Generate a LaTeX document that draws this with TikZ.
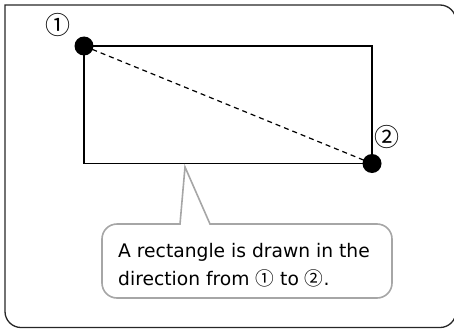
\documentclass[tikz,border=0pt]{standalone}
\usepackage{fontspec}
\newfontfamily\dejavu{DejaVu Sans}
\newfontfamily\cjk{Noto Sans CJK JP}
\usepackage{tikz}

\newcommand{\circnum}[1]{{\cjk #1}}

\begin{document}
\begin{tikzpicture}[x=1pt, y=-1pt,
  every node/.style={font=\cjk\fontsize{25}{28}\selectfont},
  dot/.style={circle, fill=black, inner sep=0pt, minimum size=19pt},
  callout/.style={draw=black!35, line width=1.6pt, fill=white},
  note/.style={font=\dejavu\fontsize{18.7}{28}\selectfont, align=left, inner sep=0pt, anchor=west}]
\clip (0,0) rectangle (454,329);
\draw[line width=1.3pt, black!85] (5,160) -- (5,5) -- (200,5) [rounded corners=16pt] -- (456,5) -- (456,327.5) -- (5,327.5) -- (5,160);
\node[dot] (p1) at (84,46) {};
\node[dot] (p2) at (372,163.5) {};
\draw[line width=1.5pt] (p1.center) rectangle (p2.center);
\draw[dashed, line width=1.2pt, dash pattern=on 5pt off 4pt] (p1.center) -- (p2.center);
\node (n1) at (58,25) {①};
\node (n2) at (387,137) {②};
\coordinate (tip) at (185,167);
\draw[callout] (300,224) -- (210,224) -- (tip) -- (180,224) -- (170,224) [rounded corners=15pt] -- (102,224) -- (102,298) -- (392,298) -- (392,224) -- cycle;
\node[note] (msg) at (118,265.5) {A rectangle is drawn in the\\direction from \circnum{①} to \circnum{②}.};
\end{tikzpicture}
\end{document}
